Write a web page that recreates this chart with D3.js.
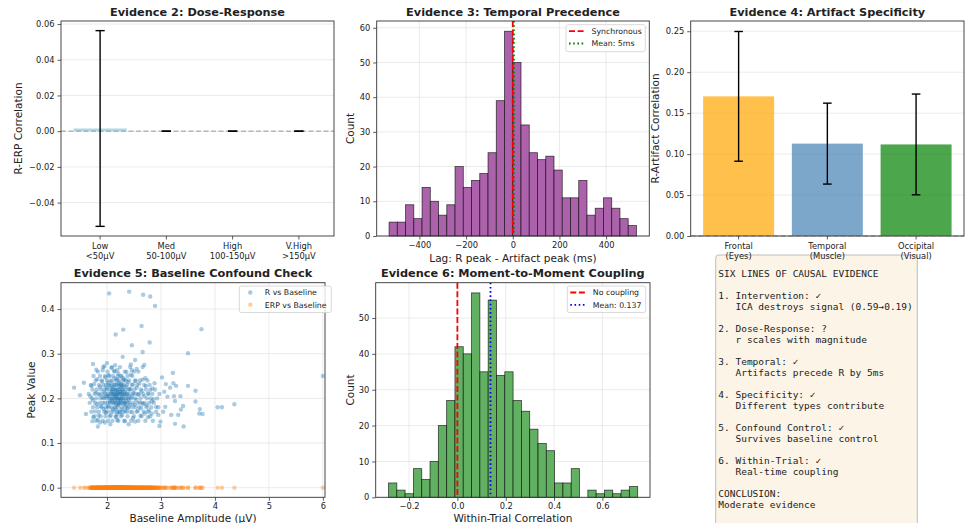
<!DOCTYPE html>
<html>
<head>
<meta charset="utf-8">
<script src="https://cdn.jsdelivr.net/npm/d3@7"></script>
<style>
body { margin: 0; background: #fff; }
svg text { font-family: "DejaVu Sans", sans-serif; fill: #222; }
</style>
</head>
<body>
<svg id="fig" width="969" height="523"></svg>
<script>
// ---- data ----
var doseLabels = ["Low\n<50μV", "Med\n50-100μV", "High\n100-150μV", "V.High\n>150μV"];
var doseR = [0.0015, 0, 0, 0];
var doseErr = [0.0548, 0, 0, 0];
var doseTicks = [-0.04, -0.02, 0, 0.02, 0.04, 0.06];

var lagCounts = [4, 4, 9, 5, 14, 10, 6, 9, 20, 14, 16, 18, 24, 39, 59, 50, 32, 24, 22, 23, 19, 11, 11, 16, 6, 8, 11, 8, 5, 3];
var lagRange = [-530, 530];
var lagMean = 5;
var lagTicks = [-400, -200, 0, 200, 400];
var lagCountTicks = [0, 10, 20, 30, 40, 50, 60];

var artLabels = ["Frontal\n(Eyes)", "Temporal\n(Muscle)", "Occipital\n(Visual)"];
var artR = [0.1705, 0.1128, 0.1118];
var artErr = [0.0792, 0.0494, 0.0615];
var artColors = ["#ffa500", "#4682b4", "#008000"];
var artTicks = [0, 0.05, 0.10, 0.15, 0.20, 0.25];

// [baseline amplitude, R peak]
var rPoints = [
  [2.04,0.435],[2.41,0.439],[2.67,0.432],[2.80,0.428],[2.89,0.407],[2.16,0.343],[2.30,0.354],[2.64,0.362],
  [2.79,0.325],[2.46,0.319],[2.66,0.304],[3.50,0.301],[3.75,0.355],[6.00,0.250],[4.36,0.187],[4.05,0.180],
  [4.13,0.180],[3.64,0.217],[3.64,0.193],[3.72,0.176],[3.71,0.166],[3.77,0.165],[3.50,0.228],[3.42,0.137],
  [3.26,0.143],[3.32,0.163],[3.19,0.163],[3.22,0.257],[3.37,0.175],[3.41,0.183],[3.36,0.205],[3.24,0.205],
  [3.26,0.194],[3.28,0.228],[3.23,0.234],[3.17,0.224],[3.09,0.232],[3.02,0.247],[3.06,0.215],[3.08,0.181],
  [2.99,0.148],[3.04,0.170],[2.97,0.138],[3.12,0.204],[2.95,0.163],[2.91,0.181],[2.86,0.198],[2.84,0.222],
  [2.88,0.234],[2.69,0.275],[2.71,0.245],[2.52,0.286],[2.46,0.263],[2.29,0.293],[1.92,0.263],[1.74,0.277],
  [1.57,0.235],[1.39,0.224],[1.50,0.207],[1.61,0.165],[1.73,0.149],[1.83,0.137],[1.87,0.146],[2.40,0.142],
  [2.52,0.148],[2.83,0.166],
  [1.66,0.21],[1.68,0.19],[1.70,0.23],[1.71,0.17],[1.72,0.20],[1.73,0.22],[1.74,0.18],[1.75,0.25],
  [1.76,0.16],[1.77,0.21],[1.78,0.19],[1.79,0.24],[1.80,0.15],[1.80,0.20],[1.81,0.22],[1.82,0.18],
  [1.83,0.26],[1.84,0.21],[1.85,0.17],[1.85,0.23],[1.86,0.19],[1.87,0.25],[1.88,0.20],[1.88,0.16],
  [1.89,0.22],[1.90,0.18],[1.90,0.24],[1.91,0.21],[1.92,0.15],[1.92,0.19],[1.93,0.27],[1.93,0.23],
  [1.94,0.20],[1.95,0.17],[1.95,0.22],[1.96,0.25],[1.96,0.19],[1.97,0.21],[1.97,0.16],[1.98,0.23],
  [1.98,0.18],[1.99,0.20],[2.00,0.24],[2.00,0.22],[2.00,0.17],[2.01,0.19],[2.01,0.26],[2.02,0.21],
  [2.02,0.15],[2.03,0.23],[2.03,0.18],[2.04,0.20],[2.04,0.25],[2.05,0.22],[2.05,0.16],[2.06,0.19],
  [2.06,0.21],[2.07,0.24],[2.07,0.17],[2.08,0.20],[2.08,0.23],[2.09,0.18],[2.09,0.27],[2.10,0.21],
  [2.10,0.19],[2.10,0.15],[2.11,0.22],[2.11,0.25],[2.12,0.20],[2.12,0.17],[2.13,0.23],[2.13,0.19],
  [2.14,0.21],[2.14,0.26],[2.15,0.18],[2.15,0.22],[2.16,0.20],[2.16,0.16],[2.17,0.24],[2.17,0.21],
  [2.18,0.19],[2.18,0.23],[2.19,0.17],[2.19,0.20],[2.20,0.22],[2.20,0.25],[2.20,0.18],[2.21,0.21],
  [2.21,0.15],[2.22,0.19],[2.22,0.24],[2.23,0.20],[2.23,0.22],[2.24,0.17],[2.24,0.27],[2.25,0.21],
  [2.25,0.19],[2.26,0.23],[2.26,0.16],[2.27,0.20],[2.27,0.25],[2.28,0.18],[2.28,0.22],[2.29,0.21],
  [2.29,0.19],[2.30,0.24],[2.30,0.17],[2.31,0.20],[2.31,0.23],[2.32,0.15],[2.32,0.21],[2.33,0.26],
  [2.33,0.19],[2.34,0.22],[2.34,0.18],[2.35,0.20],[2.35,0.24],[2.36,0.17],[2.36,0.21],[2.37,0.23],
  [2.37,0.19],[2.38,0.25],[2.38,0.16],[2.39,0.20],[2.40,0.22],[2.40,0.18],[2.41,0.24],[2.41,0.21],
  [2.42,0.19],[2.43,0.27],[2.43,0.17],[2.44,0.22],[2.45,0.20],[2.45,0.15],[2.46,0.23],[2.47,0.18],
  [2.47,0.25],[2.48,0.21],[2.49,0.19],[2.50,0.26],[2.50,0.16],[2.51,0.22],[2.52,0.20],[2.53,0.24],
  [2.53,0.18],[2.54,0.21],[2.55,0.17],[2.56,0.23],[2.57,0.19],[2.58,0.26],[2.58,0.15],[2.59,0.21],
  [2.60,0.18],[2.61,0.24],[2.62,0.20],[2.63,0.22],[2.64,0.16],[2.65,0.19],[2.66,0.27],[2.67,0.21],
  [2.68,0.17],[2.69,0.23],[2.70,0.19],[2.71,0.15],[2.72,0.22],[2.73,0.18],[2.74,0.20],[2.75,0.24],
  [2.76,0.17],[2.77,0.21],[2.78,0.19],[2.79,0.23],[2.80,0.16],[2.81,0.20],[2.82,0.18],[2.84,0.21],
  [2.85,0.15],[2.87,0.19],[2.89,0.22],[2.91,0.17],[2.93,0.20],[2.95,0.18],[2.97,0.21],
  [2.05,0.205],[2.10,0.215],[2.15,0.195],[2.18,0.205],[2.20,0.210],[2.22,0.200],[2.25,0.215],[2.28,0.205],
  [2.30,0.195],[2.12,0.225],[2.17,0.185],[2.23,0.235],[2.27,0.175],[2.08,0.195],[2.32,0.215],[2.14,0.245],
  [2.19,0.165],[2.26,0.225],[2.02,0.235],[2.35,0.185],[1.98,0.205],[2.40,0.205],[2.21,0.255],[2.16,0.175],
  [2.24,0.195],
  [1.69,0.205],[1.71,0.228],[1.74,0.196],[1.76,0.232],[1.78,0.171],[1.79,0.213],[1.81,0.187],[1.82,0.243],
  [1.84,0.162],[1.86,0.208],[1.87,0.226],[1.89,0.183],[1.91,0.238],[1.92,0.202],[1.94,0.176],[1.95,0.214],
  [1.97,0.247],[1.98,0.168],[1.99,0.224],[2.01,0.206],[2.02,0.183],[2.03,0.252],[2.05,0.193],[2.06,0.228],
  [2.07,0.162],[2.08,0.214],[2.09,0.238],[2.11,0.176],[2.12,0.209],[2.13,0.262],[2.14,0.191],[2.15,0.231],
  [2.16,0.217],[2.17,0.158],[2.18,0.243],[2.19,0.212],[2.21,0.186],[2.22,0.227],[2.23,0.169],[2.24,0.214],
  [2.25,0.249],[2.26,0.198],[2.27,0.232],[2.28,0.163],[2.29,0.218],[2.31,0.188],[2.32,0.242],[2.33,0.207],
  [2.34,0.172],[2.35,0.226],[2.36,0.194],[2.37,0.211],[2.38,0.178],[2.39,0.236],[2.41,0.197],[2.42,0.221],
  [2.43,0.186],[2.44,0.253],[2.46,0.204],[2.47,0.169],[2.48,0.231],[2.49,0.212],[2.51,0.186],[2.52,0.239],
  [2.54,0.197],[2.55,0.224],[2.57,0.172],[2.58,0.208],[2.60,0.233],[2.61,0.191],[2.63,0.178],[2.64,0.216],
  [2.66,0.242],[2.67,0.187],[2.69,0.205],[2.70,0.166],[2.72,0.228],[2.74,0.184],[2.76,0.211],[2.78,0.173],
  [2.80,0.219],[2.83,0.193],[1.75,0.158],[1.83,0.152],[1.96,0.146],[2.06,0.142],[2.19,0.151],[2.33,0.149],
  [2.48,0.156],[2.62,0.161],[2.76,0.158],[1.80,0.264],[1.95,0.272],[2.08,0.268],[2.19,0.263],[2.36,0.259],
  [2.55,0.266],[2.44,0.276],[2.15,0.274],[2.00,0.279],[2.30,0.245],[2.10,0.199],[2.20,0.196],[2.13,0.207],
  [2.26,0.209],[2.18,0.219],[2.23,0.188],[2.09,0.221],[2.29,0.227],[2.16,0.203],[2.21,0.232]
];
var erpPeak = 0; // every ERP vs Baseline point sits on 0.0
var scatterXTicks = [2, 3, 4, 5, 6];
var scatterYTicks = [0, 0.1, 0.2, 0.3, 0.4];

var couplingCounts = [4, 2, 1, 8, 5, 10, 20, 27, 42, 40, 57, 35, 55, 34, 35, 27, 24, 19, 15, 13, 4, 4, 8, 0, 2, 1, 2, 1, 2, 3];
var couplingRange = [-0.285, 0.746];
var couplingMean = 0.137;
var couplingXTicks = [-0.2, 0, 0.2, 0.4, 0.6];
var couplingYTicks = [0, 10, 20, 30, 40, 50];

var evidenceLines = [
  "SIX LINES OF CAUSAL EVIDENCE",
  "",
  "1. Intervention: ✓",
  "   ICA destroys signal (0.59→0.19)",
  "",
  "2. Dose-Response: ?",
  "   r scales with magnitude",
  "",
  "3. Temporal: ✓",
  "   Artifacts precede R by 5ms",
  "",
  "4. Specificity: ✓",
  "   Different types contribute",
  "",
  "5. Confound Control: ✓",
  "   Survives baseline control",
  "",
  "6. Within-Trial: ✓",
  "   Real-time coupling",
  "",
  "CONCLUSION:",
  "Moderate evidence"
];

// ---- helpers ----
var svg = d3.select("#fig");
var TICK_FONT = 8.3, LABEL_FONT = 10.5, TITLE_FONT = 11.3, LEGEND_FONT = 7.8;

function styleAxis(sel) {
    sel.select(".domain").remove();
    sel.selectAll(".tick line").attr("stroke", "#333").attr("stroke-width", 0.8);
    sel.selectAll(".tick text").attr("fill", "#222").style("font-size", TICK_FONT + "px");
}

function gridY(g, x, y, ticks) {
    g.append("g").selectAll("line").data(ticks).enter().append("line")
        .attr("x1", x.range()[0]).attr("x2", x.range()[1])
        .attr("y1", function (d) { return y(d); }).attr("y2", function (d) { return y(d); })
        .attr("stroke", "#e6e6e6").attr("stroke-width", 0.8);
}

function gridX(g, x, y, ticks) {
    g.append("g").selectAll("line").data(ticks).enter().append("line")
        .attr("y1", y.range()[0]).attr("y2", y.range()[1])
        .attr("x1", function (d) { return x(d); }).attr("x2", function (d) { return x(d); })
        .attr("stroke", "#e6e6e6").attr("stroke-width", 0.8);
}

function frame(g, x, y) {
    g.append("rect")
        .attr("x", x.range()[0]).attr("y", y.range()[1])
        .attr("width", x.range()[1] - x.range()[0])
        .attr("height", y.range()[0] - y.range()[1])
        .attr("fill", "none").attr("stroke", "#333").attr("stroke-width", 0.9);
}

function title(g, x, yPos, text) {
    g.append("text")
        .attr("x", (x.range()[0] + x.range()[1]) / 2).attr("y", yPos)
        .attr("text-anchor", "middle")
        .style("font-size", TITLE_FONT + "px").style("font-weight", "bold")
        .attr("fill", "#000")
        .text(text);
}

function yLabel(g, cx, cy, text) {
    g.append("text")
        .attr("transform", "translate(" + cx + "," + cy + ") rotate(-90)")
        .attr("text-anchor", "middle").attr("dy", "0.35em")
        .style("font-size", LABEL_FONT + "px")
        .text(text);
}

function xLabel(g, cx, by, text) {
    g.append("text")
        .attr("x", cx).attr("y", by)
        .attr("text-anchor", "middle")
        .style("font-size", LABEL_FONT + "px")
        .text(text);
}

function legend(g, box, items) {
    g.append("rect")
        .attr("x", box[0]).attr("y", box[1]).attr("width", box[2]).attr("height", box[3])
        .attr("rx", 2).attr("fill", "#fff").attr("fill-opacity", 0.8)
        .attr("stroke", "#d0d0d0").attr("stroke-width", 0.8);
    items.forEach(function (it, i) {
        var yy = box[1] + 6.5 + i * 12.3;
        if (it.dot) {
            g.append("circle").attr("cx", box[0] + 11).attr("cy", yy).attr("r", 2.2)
                .attr("fill", it.color).attr("fill-opacity", 0.4);
        } else {
            g.append("line")
                .attr("x1", box[0] + 3).attr("x2", box[0] + 19.5)
                .attr("y1", yy).attr("y2", yy)
                .attr("stroke", it.color).attr("stroke-width", 1.8)
                .attr("stroke-dasharray", it.dash);
        }
        g.append("text").attr("x", box[0] + 25.5).attr("y", yy).attr("dy", "0.35em")
            .style("font-size", LEGEND_FONT + "px").text(it.label);
    });
}

function catTickLabels(g, x, yTop, labels, lh) {
    labels.forEach(function (lab, i) {
        var t = g.append("text").attr("text-anchor", "middle")
            .style("font-size", TICK_FONT + "px");
        lab.split("\n").forEach(function (line, j) {
            t.append("tspan").attr("x", x(i)).attr("y", yTop + j * lh).text(line);
        });
    });
}

function errorBars(g, x, y, vals, errs, cap) {
    vals.forEach(function (v, i) {
        var cx = x(i);
        g.append("line").attr("x1", cx).attr("x2", cx)
            .attr("y1", y(v - errs[i])).attr("y2", y(v + errs[i]))
            .attr("stroke", "#000").attr("stroke-width", 1.4);
        [v - errs[i], v + errs[i]].forEach(function (e) {
            g.append("line").attr("x1", cx - cap).attr("x2", cx + cap)
                .attr("y1", y(e)).attr("y2", y(e))
                .attr("stroke", "#000").attr("stroke-width", 1.4);
        });
    });
}

// ---- summary text box (drawn first; panel labels sit on top of its edge) ----
(function () {
    var g = svg.append("g");
    g.append("rect")
        .attr("x", 715.7).attr("y", 255).attr("width", 201.6).attr("height", 290)
        .attr("rx", 3).attr("fill", "#fbf4e7")
        .attr("stroke", "#bdbdbd").attr("stroke-width", 1);
    var t = g.append("text")
        .style("font-family", "'DejaVu Sans Mono', monospace")
        .style("font-size", "9.5px")
        .style("white-space", "pre")
        .attr("fill", "#111");
    evidenceLines.forEach(function (line, i) {
        t.append("tspan").attr("x", 718.3).attr("y", 277.3 + i * 11).text(line);
    });
})();

// ---- Evidence 2: Dose-Response ----
(function () {
    var g = svg.append("g");
    var x = d3.scaleLinear().domain([-0.59, 3.53]).range([61, 334]);
    var y = d3.scaleLinear().domain([-0.0587, 0.0617]).range([236, 21]);
    gridY(g, x, y, doseTicks);
    var bw = x(0.4) - x(0);
    g.selectAll("rect.bar").data(doseR).enter().append("rect")
        .attr("x", function (d, i) { return x(i) - bw; })
        .attr("width", 2 * bw)
        .attr("y", function (d) { return y(Math.max(d, 0)); })
        .attr("height", function (d) { return Math.abs(y(d) - y(0)); })
        .attr("fill", "#add8e6");
    g.append("line").attr("x1", 61).attr("x2", 334).attr("y1", y(0)).attr("y2", y(0))
        .attr("stroke", "#999").attr("stroke-width", 1).attr("stroke-dasharray", "5,2.5");
    errorBars(g, x, y, doseR, doseErr, 4.6);
    g.append("g").attr("transform", "translate(61,0)")
        .call(d3.axisLeft(y).tickValues(doseTicks).tickFormat(d3.format(".2f")).tickSize(3.5).tickPadding(3))
        .call(styleAxis);
    g.append("g").selectAll("line").data(doseLabels).enter().append("line")
        .attr("x1", function (d, i) { return x(i); }).attr("x2", function (d, i) { return x(i); })
        .attr("y1", 236).attr("y2", 239.5).attr("stroke", "#333").attr("stroke-width", 0.8);
    catTickLabels(g, x, 248.5, doseLabels, 10.5);
    frame(g, x, y);
    title(g, x, 15.5, "Evidence 2: Dose-Response");
    yLabel(g, 18.5, 128.5, "R-ERP Correlation");
})();

// ---- Evidence 3: Temporal Precedence ----
(function () {
    var g = svg.append("g");
    var x = d3.scaleLinear().domain([-583, 585]).range([376.7, 649.3]);
    var y = d3.scaleLinear().domain([0, 61.95]).range([236, 21]);
    gridY(g, x, y, lagCountTicks);
    gridX(g, x, y, lagTicks);
    var step = (lagRange[1] - lagRange[0]) / lagCounts.length;
    g.selectAll("rect.bar").data(lagCounts).enter().append("rect")
        .attr("x", function (d, i) { return x(lagRange[0] + i * step); })
        .attr("width", x(step) - x(0))
        .attr("y", function (d) { return y(d); })
        .attr("height", function (d) { return y(0) - y(d); })
        .attr("fill", "#ab62ab")
        .attr("stroke", "#000").attr("stroke-opacity", 0.7).attr("stroke-width", 0.8);
    g.append("line").attr("x1", x(0)).attr("x2", x(0)).attr("y1", 21).attr("y2", 236)
        .attr("stroke", "#ff0000").attr("stroke-width", 1.8).attr("stroke-dasharray", "6,2.6");
    g.append("line").attr("x1", x(lagMean)).attr("x2", x(lagMean)).attr("y1", 21).attr("y2", 236)
        .attr("stroke", "#008000").attr("stroke-width", 1.8).attr("stroke-dasharray", "1.6,2.6");
    g.append("g").attr("transform", "translate(376.7,0)")
        .call(d3.axisLeft(y).tickValues(lagCountTicks).tickSize(3.5).tickPadding(3))
        .call(styleAxis);
    g.append("g").attr("transform", "translate(0,236)")
        .call(d3.axisBottom(x).tickValues(lagTicks).tickSize(3.5).tickPadding(2.5))
        .call(styleAxis);
    legend(g, [566, 24.7, 79.3, 27], [
        { label: "Synchronous", color: "#ff0000", dash: "6,2.6" },
        { label: "Mean: 5ms", color: "#008000", dash: "1.6,2.6" }
    ]);
    frame(g, x, y);
    title(g, x, 15.5, "Evidence 3: Temporal Precedence");
    yLabel(g, 350.5, 128.5, "Count");
    xLabel(g, (376.7 + 649.3) / 2, 261.5, "Lag: R peak - Artifact peak (ms)");
})();

// ---- Evidence 4: Artifact Specificity ----
(function () {
    var g = svg.append("g");
    var x = d3.scaleLinear().domain([-0.54, 2.54]).range([690.7, 964]);
    var y = d3.scaleLinear().domain([0, 0.2625]).range([236, 21]);
    gridY(g, x, y, artTicks);
    var bw = x(0.4) - x(0);
    g.selectAll("rect.bar").data(artR).enter().append("rect")
        .attr("x", function (d, i) { return x(i) - bw; })
        .attr("width", 2 * bw)
        .attr("y", function (d) { return y(d); })
        .attr("height", function (d) { return y(0) - y(d); })
        .attr("fill", function (d, i) { return artColors[i]; })
        .attr("fill-opacity", 0.7);
    g.append("line").attr("x1", 690.7).attr("x2", 964).attr("y1", y(0)).attr("y2", y(0))
        .attr("stroke", "#999").attr("stroke-width", 1).attr("stroke-dasharray", "5,2.5");
    errorBars(g, x, y, artR, artErr, 4.3);
    g.append("g").attr("transform", "translate(690.7,0)")
        .call(d3.axisLeft(y).tickValues(artTicks).tickFormat(d3.format(".2f")).tickSize(3.5).tickPadding(3))
        .call(styleAxis);
    g.append("g").selectAll("line").data(artLabels).enter().append("line")
        .attr("x1", function (d, i) { return x(i); }).attr("x2", function (d, i) { return x(i); })
        .attr("y1", 236).attr("y2", 239.5).attr("stroke", "#333").attr("stroke-width", 0.8);
    catTickLabels(g, x, 248.5, artLabels, 10);
    frame(g, x, y);
    title(g, x, 15.5, "Evidence 4: Artifact Specificity");
    yLabel(g, 655, 128.5, "R-Artifact Correlation");
})();

// ---- Evidence 5: Baseline Confound Check ----
(function () {
    var g = svg.append("g");
    var x = d3.scaleLinear().domain([1.147, 6.04]).range([61, 325]);
    var y = d3.scaleLinear().domain([-0.0215, 0.459]).range([497.3, 282.7]);
    gridY(g, x, y, scatterYTicks);
    gridX(g, x, y, scatterXTicks);
    g.append("g").selectAll("circle").data(rPoints).enter().append("circle")
        .attr("cx", function (d) { return x(d[0]); })
        .attr("cy", function (d) { return y(d[1]); })
        .attr("r", 2.2).attr("fill", "#1f77b4").attr("fill-opacity", 0.38);
    g.append("g").selectAll("circle").data(rPoints).enter().append("circle")
        .attr("cx", function (d) { return x(d[0]); })
        .attr("cy", y(erpPeak))
        .attr("r", 2.2).attr("fill", "#ff7f0e").attr("fill-opacity", 0.38);
    g.append("g").attr("transform", "translate(61,0)")
        .call(d3.axisLeft(y).tickValues(scatterYTicks).tickFormat(d3.format(".1f")).tickSize(3.5).tickPadding(3))
        .call(styleAxis);
    g.append("g").attr("transform", "translate(0,497.3)")
        .call(d3.axisBottom(x).tickValues(scatterXTicks).tickFormat(d3.format("d")).tickSize(3.5).tickPadding(2.5))
        .call(styleAxis);
    frame(g, x, y);
    legend(g, [239.3, 286, 92, 26.5], [
        { label: "R vs Baseline", color: "#1f77b4", dot: true },
        { label: "ERP vs Baseline", color: "#ff7f0e", dot: true }
    ]);
    title(g, x, 276.7, "Evidence 5: Baseline Confound Check");
    yLabel(g, 31.5, 390, "Peak Value");
    xLabel(g, (61 + 325) / 2, 522, "Baseline Amplitude (μV)");
})();

// ---- Evidence 6: Moment-to-Moment Coupling ----
(function () {
    var g = svg.append("g");
    var x = d3.scaleLinear().domain([-0.338, 0.797]).range([375.7, 650]);
    var y = d3.scaleLinear().domain([0, 59.85]).range([497.3, 282.7]);
    gridY(g, x, y, couplingYTicks);
    gridX(g, x, y, couplingXTicks);
    var step = (couplingRange[1] - couplingRange[0]) / couplingCounts.length;
    g.selectAll("rect.bar").data(couplingCounts).enter().append("rect")
        .attr("x", function (d, i) { return x(couplingRange[0] + i * step); })
        .attr("width", x(step) - x(0))
        .attr("y", function (d) { return y(d); })
        .attr("height", function (d) { return y(0) - y(d); })
        .attr("fill", "#62b062")
        .attr("stroke", "#000").attr("stroke-opacity", 0.7).attr("stroke-width", 0.8);
    g.append("line").attr("x1", x(0)).attr("x2", x(0)).attr("y1", 282.7).attr("y2", 497.3)
        .attr("stroke", "#ff0000").attr("stroke-width", 1.8).attr("stroke-dasharray", "6,2.6");
    g.append("line").attr("x1", x(couplingMean)).attr("x2", x(couplingMean)).attr("y1", 282.7).attr("y2", 497.3)
        .attr("stroke", "#0000ff").attr("stroke-width", 1.8).attr("stroke-dasharray", "1.6,2.6");
    g.append("g").attr("transform", "translate(375.7,0)")
        .call(d3.axisLeft(y).tickValues(couplingYTicks).tickSize(3.5).tickPadding(3))
        .call(styleAxis);
    g.append("g").attr("transform", "translate(0,497.3)")
        .call(d3.axisBottom(x).tickValues(couplingXTicks).tickFormat(d3.format(".1f")).tickSize(3.5).tickPadding(2.5))
        .call(styleAxis);
    legend(g, [567.3, 286, 78.4, 26.5], [
        { label: "No coupling", color: "#ff0000", dash: "6,2.6" },
        { label: "Mean: 0.137", color: "#0000ff", dash: "1.6,2.6" }
    ]);
    frame(g, x, y);
    title(g, x, 276.7, "Evidence 6: Moment-to-Moment Coupling");
    yLabel(g, 350, 390, "Count");
    xLabel(g, (375.7 + 650) / 2, 522, "Within-Trial Correlation");
})();
</script>
</body>
</html>
